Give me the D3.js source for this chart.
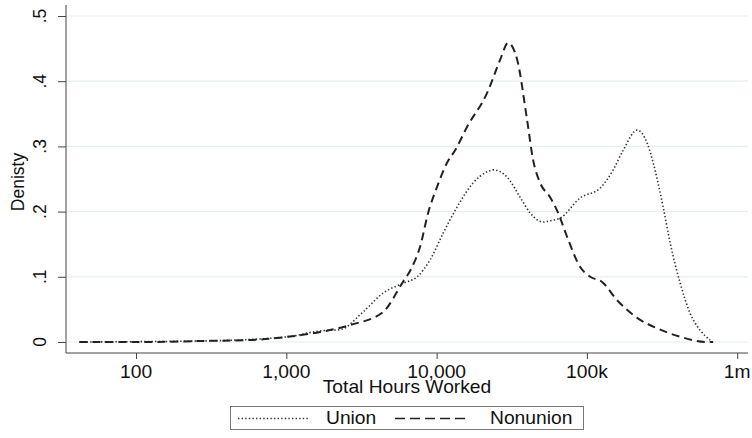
<!DOCTYPE html>
<html>
<head>
<meta charset="utf-8">
<script src="https://cdn.jsdelivr.net/npm/d3@7"></script>
<style>
  body { margin: 0; background: #fff; }
  text { font-family: "Liberation Sans", Arial, sans-serif; fill: #111; }
</style>
</head>
<body>
<div id="chart"></div>
<script>
// kernel density of total hours worked (log scale)
const unionHours = [42, 267, 1000, 1680, 2280, 3240, 4400, 5980, 7420, 9050, 11050, 13690, 17490, 21680, 23770, 29440, 35940, 41920, 51140, 56920, 66370, 90200, 122500, 149600, 174300, 216000, 251800, 276000, 321600, 358000, 417800, 486000, 567000, 661000];
const unionDensity = [0, 0.0015, 0.0077, 0.017, 0.019, 0.046, 0.075, 0.09, 0.1, 0.126, 0.167, 0.207, 0.244, 0.261, 0.264, 0.253, 0.222, 0.198, 0.184, 0.186, 0.19, 0.221, 0.236, 0.264, 0.294, 0.325, 0.305, 0.275, 0.207, 0.152, 0.09, 0.044, 0.018, 0.003];

const nonunionHours = [42, 124, 267, 574, 1000, 1680, 2657, 4400, 5890, 6870, 7760, 8780, 10070, 11740, 13280, 15960, 21680, 26480, 29920, 34360, 40030, 43880, 48850, 56920, 64350, 73900, 90200, 105200, 126300, 158900, 216000, 293500, 417800, 631000, 692000];
const nonunionDensity = [0, 0, 0.0015, 0.003, 0.0077, 0.0153, 0.026, 0.046, 0.09, 0.115, 0.146, 0.198, 0.238, 0.275, 0.294, 0.33, 0.382, 0.433, 0.459, 0.433, 0.34, 0.279, 0.244, 0.222, 0.198, 0.161, 0.115, 0.1, 0.092, 0.064, 0.037, 0.021, 0.008, 0, 0];

const xTicks = [100, 1000, 10000, 100000, 1000000];
const xTickLabels = ["100", "1,000", "10,000", "100k", "1m"];
const yTicks = [0, 0.1, 0.2, 0.3, 0.4, 0.5];
const yTickLabels = ["0", ".1", ".2", ".3", ".4", ".5"];

const width = 752, height = 438;
const plot = { left: 66, right: 748, top: 5, bottom: 353 };
const stretch = 1.1; // text in the picture is a bit wider than tall

const svg = d3.select("#chart").append("svg")
  .attr("width", width)
  .attr("height", height);

const x = d3.scaleLog().domain([34.2, 1.18e6]).range([plot.left, plot.right]);
const y = d3.scaleLinear().domain([-0.0169, 0.5169]).range([plot.bottom, plot.top]);

// grid lines
svg.append("g")
  .selectAll("line")
  .data(yTicks)
  .join("line")
  .attr("x1", plot.left + 1)
  .attr("x2", plot.right)
  .attr("y1", (d) => y(d))
  .attr("y2", (d) => y(d))
  .attr("stroke", "#e5eeee")
  .attr("stroke-width", 1.2);

// y axis
const yAxis = svg.append("g")
  .attr("transform", `translate(${plot.left},0)`)
  .call(d3.axisLeft(y).tickValues(yTicks).tickSize(8).tickFormat(""));
yAxis.select(".domain").attr("d", `M0,${plot.top}V${plot.bottom}`).attr("stroke", "#444");
yAxis.selectAll(".tick line").attr("stroke", "#444");

svg.append("g")
  .selectAll("text")
  .data(yTicks)
  .join("text")
  .attr("transform", (d) => `translate(46,${y(d)}) scale(${stretch},1) rotate(-90)`)
  .attr("text-anchor", "middle")
  .style("font-size", "17.5px")
  .text((d, i) => yTickLabels[i]);

// x axis
const xAxis = svg.append("g")
  .attr("transform", `translate(0,${plot.bottom})`)
  .call(d3.axisBottom(x).tickValues(xTicks).tickSize(6).tickFormat(""));
xAxis.select(".domain").attr("d", `M${plot.left},0H${plot.right}`).attr("stroke", "#444");
xAxis.selectAll(".tick line").attr("stroke", "#444");

svg.append("g")
  .selectAll("text")
  .data(xTicks)
  .join("text")
  .attr("transform", (d) => `translate(${x(d)},378) scale(${stretch},1)`)
  .attr("text-anchor", "middle")
  .style("font-size", "17.5px")
  .text((d, i) => xTickLabels[i]);

// axis titles
svg.append("text")
  .attr("transform", `translate(407,393) scale(${stretch},1)`)
  .attr("text-anchor", "middle")
  .style("font-size", "17.5px")
  .text("Total Hours Worked");

svg.append("text")
  .attr("transform", `translate(24,182) scale(${stretch},1) rotate(-90)`)
  .attr("text-anchor", "middle")
  .style("font-size", "17.5px")
  .text("Denisty");

// density curves
const line = d3.line()
  .x((d) => x(d[0]))
  .y((d) => y(d[1]))
  .curve(d3.curveMonotoneX);

const unionPts = unionHours.map((h, i) => [h, unionDensity[i]]);
const nonunionPts = nonunionHours.map((h, i) => [h, nonunionDensity[i]]);

svg.append("path")
  .datum(unionPts)
  .attr("d", line)
  .attr("fill", "none")
  .attr("stroke", "#333")
  .attr("stroke-width", 1.6)
  .attr("stroke-dasharray", "1.4,2.2");

svg.append("path")
  .datum(nonunionPts)
  .attr("d", line)
  .attr("fill", "none")
  .attr("stroke", "#222")
  .attr("stroke-width", 2)
  .attr("stroke-dasharray", "8,5");

// legend
const legend = svg.append("g");
legend.append("rect")
  .attr("x", 230.5)
  .attr("y", 406.5)
  .attr("width", 353)
  .attr("height", 23)
  .attr("fill", "#fff")
  .attr("stroke", "#777");

legend.append("line")
  .attr("x1", 238).attr("x2", 310)
  .attr("y1", 418.5).attr("y2", 418.5)
  .attr("stroke", "#333")
  .attr("stroke-width", 1.4)
  .attr("stroke-dasharray", "1.4,2.2");
legend.append("text")
  .attr("transform", `translate(326,424) scale(${stretch},1)`)
  .style("font-size", "17.5px")
  .text("Union");

legend.append("line")
  .attr("x1", 395).attr("x2", 467)
  .attr("y1", 418.5).attr("y2", 418.5)
  .attr("stroke", "#222")
  .attr("stroke-width", 1.6)
  .attr("stroke-dasharray", "10,5");
legend.append("text")
  .attr("transform", `translate(490,424) scale(${stretch},1)`)
  .style("font-size", "17.5px")
  .text("Nonunion");
</script>
</body>
</html>
